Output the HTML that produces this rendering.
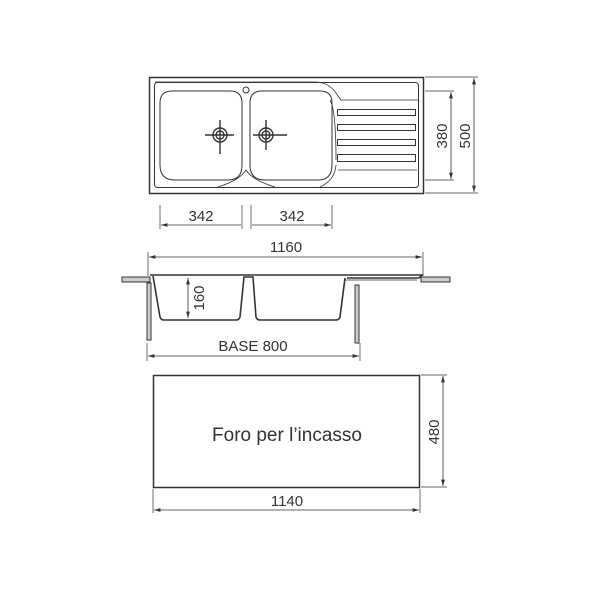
<!DOCTYPE html>
<html><head><style>html,body{margin:0;padding:0;background:#fff}svg{display:block}</style></head><body>
<svg width="600" height="600" viewBox="0 0 600 600" xmlns="http://www.w3.org/2000/svg" font-family="Liberation Sans, sans-serif" fill="none" stroke="#333" stroke-width="1">
<defs><marker id="a" viewBox="0 0 10 6" refX="10" refY="3" markerWidth="8" markerHeight="5" orient="auto-start-reverse"><path d="M0,0L10,3L0,6z" fill="#333" stroke="none"/></marker></defs>
<!-- plan -->
<rect x="149.5" y="77.5" width="274" height="116" stroke-width="1.5"/>
<path d="M155,82 H315 Q330,82 338,96 L341,100 H417 Q419,100 419,102" stroke-width="0.8"/>
<rect x="154.5" y="82.5" width="264" height="105" rx="3" stroke-width="1"/>
<path d="M172,91 H230 Q242,91 242,103 V165 Q242,180 228,180 H175 Q160,180 160,165 V103 Q160,91 172,91Z"/>
<path d="M262,91 H320 Q332,91 332,103 V165 Q332,180 318,180 H265 Q250,180 250,165 V103 Q250,91 262,91Z"/>
<path d="M218,187 Q240,180 246,170 Q252,180 275,187" stroke-width="0.8"/>
<path d="M320,187 Q335,180 336,165 M336,160 Q336,110 330,100" stroke-width="0.8"/>
<circle cx="246" cy="90" r="3"/>
<g stroke-width="1.4"><circle cx="220" cy="135" r="7"/><circle cx="220" cy="135" r="4"/><path d="M205,135H234M220,120V154"/>
<circle cx="266" cy="135" r="7"/><circle cx="266" cy="135" r="4"/><path d="M253,135H287M266,120V150"/></g>
<rect x="337.5" y="109.5" width="78" height="6"/><rect x="337.5" y="124.5" width="78" height="6"/><rect x="337.5" y="139.5" width="78" height="6"/><rect x="337.5" y="154.5" width="78" height="7"/>
<path d="M338,170H417" stroke-width="0.7"/>
<path d="M425,91H454M425,180H454M425,77H478M425,193H478" stroke-width="0.7"/>
<path d="M451,92V179" marker-start="url(#a)" marker-end="url(#a)" stroke-width="0.8"/>
<path d="M474,78V192" marker-start="url(#a)" marker-end="url(#a)" stroke-width="0.8"/>
<g fill="#333" stroke="none" font-size="15"><text transform="translate(447,136) rotate(-90)" text-anchor="middle">380</text><text transform="translate(470,136) rotate(-90)" text-anchor="middle">500</text>
<text x="201" y="221" text-anchor="middle">342</text><text x="292" y="221" text-anchor="middle">342</text></g>
<path d="M160,205V229M242,205V229M251,205V229M332,205V229" stroke-width="0.7"/>
<path d="M161,225H241M252,225H331" marker-start="url(#a)" marker-end="url(#a)" stroke-width="0.8"/>
<!-- section -->
<g fill="#333" stroke="none" font-size="15"><text x="286" y="252" text-anchor="middle">1160</text><text x="253" y="351" text-anchor="middle">BASE 800</text>
<text transform="translate(204,298) rotate(-90)" text-anchor="middle">160</text></g>
<path d="M148,252V276M423,252V276" stroke-width="0.7"/>
<path d="M149,257H422" marker-start="url(#a)" marker-end="url(#a)" stroke-width="0.8"/>
<rect x="122" y="277" width="28" height="5" fill="#ccc"/>
<rect x="421" y="277" width="29" height="5" fill="#ccc"/>
<rect x="147" y="283" width="4" height="57" fill="#ccc"/>
<rect x="355" y="285" width="4" height="58" fill="#ccc"/>
<path d="M150,275H422L419,278H347 M153,276L160,317Q161,320 164,320H236Q239,320 240,317L244,277H253L256,317Q257,320 260,320H336Q339,320 340,317L345,278" stroke-width="1.6"/>
<path d="M344,280H417" stroke-width="0.8"/>
<path d="M188,278V318" marker-start="url(#a)" marker-end="url(#a)" stroke-width="0.8"/>
<path d="M147,343V361M360,343V361" stroke-width="0.7"/>
<path d="M148,356H359" marker-start="url(#a)" marker-end="url(#a)" stroke-width="0.8"/>
<!-- cutout -->
<rect x="153.5" y="375.5" width="266" height="112" stroke-width="1.5"/>
<text x="287" y="441" fill="#333" stroke="none" font-size="19" text-anchor="middle">Foro per l’incasso</text>
<path d="M421,375H447M421,487H447M153,489V513M420,489V513" stroke-width="0.7"/>
<path d="M443,376V486" marker-start="url(#a)" marker-end="url(#a)" stroke-width="0.8"/>
<path d="M154,510H419" marker-start="url(#a)" marker-end="url(#a)" stroke-width="0.8"/>
<g fill="#333" stroke="none" font-size="15"><text x="287" y="506" text-anchor="middle">1140</text><text transform="translate(439,432) rotate(-90)" text-anchor="middle">480</text></g>
</svg>
</body></html>
